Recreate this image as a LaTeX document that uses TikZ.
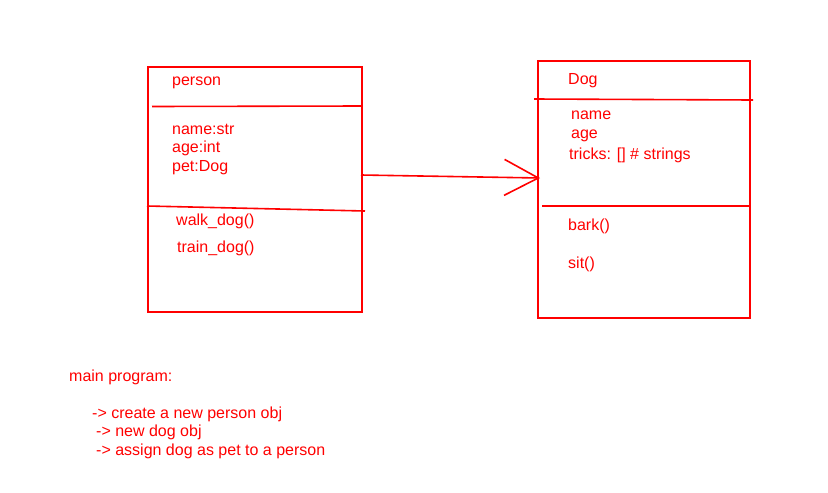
\documentclass[tikz,border=0pt]{standalone}
\usepackage{fontspec}
\setmainfont{Liberation Sans}
\usetikzlibrary{arrows.meta}

\begin{document}
\begin{tikzpicture}[x=1pt,y=-1pt,
    umlline/.style={red,line width=1.6pt},
    classbox/.style={draw=red,line width=1.6pt,rectangle,inner sep=0pt,anchor=north west},
    umltext/.style={red,anchor=base west,inner sep=0pt,font=\fontsize{16}{18}\selectfont}]

    \useasboundingbox (0,0) rectangle (828,493);

    \node[classbox,minimum width=214pt,minimum height=245pt] (person) at (147,66) {};

    \draw[umlline] (152,106.5) -- (person.east |- 0,106);

    \draw[umlline] (147,206) -- (365,211);

    \node[umltext] (personname) at (172,85) {person};

    \node[umltext] (personattra) at (172,134) {name:str};

    \node[umltext] (personattrb) at (172,152) {age:int};

    \node[umltext] (personattrc) at (172,171) {pet:Dog};

    \node[umltext] (personopa) at (176,225) {walk\_dog()};

    \node[umltext] (personopb) at (177,252) {train\_dog()};



    \node[classbox,minimum width=212pt,minimum height=257pt] (dog) at (537,60) {};

    \draw[umlline] (534,99) -- (753,100);

    \draw[umlline] (542,206) -- (dog.east |- 0,206);

    \node[umltext] (dogname) at (568,84) {Dog};

    \node[umltext] (dogattra) at (571,119) {name};

    \node[umltext] (dogattrb) at (571,138) {age};

    \node[umltext] (dogattrc) at (569,159) {tricks: [] \# strings};

    \node[umltext] (dogopa) at (568,230) {bark()};

    \node[umltext] (dogopb) at (568,268) {sit()};



    \coordinate (hasstart) at (361,175);

    \coordinate (hasend) at (540,178);

    \draw[umlline,-{Straight Barb[length=34pt,width=36pt]}] (hasstart) -- (hasend);



    \node[umltext] (mainhead) at (69,381) {main program:};

    \node[umltext] (mainstepa) at (92,418) {-> create a new person obj};

    \node[umltext] (mainstepb) at (96,436) {-> new dog obj};

    \node[umltext] (mainstepc) at (96,455) {-> assign dog as pet to a person};

  \end{tikzpicture}
\end{document}
